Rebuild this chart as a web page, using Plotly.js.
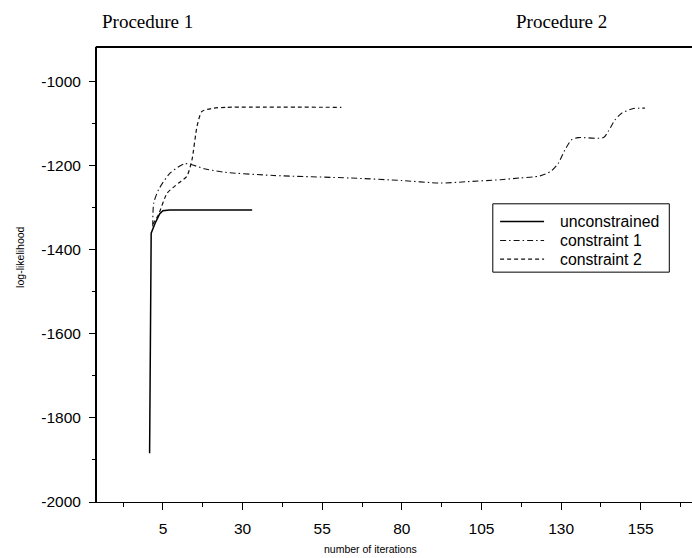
<!DOCTYPE html>
<html>
<head>
<meta charset="utf-8">
<script src="https://cdn.plot.ly/plotly-3.0.1.min.js"></script>
<style>html,body{margin:0;padding:0;background:#fff;}#chart{width:692px;height:558px;}</style>
</head>
<body>
<div id="chart"></div>
<script>
// ---- data ----
const seriesNames = ["unconstrained", "constraint 1", "constraint 2"];

const unconX = [0.8, 1.3, 2.5, 4, 5, 7, 15, 25, 33];
const unconY = [-1884, -1361, -1338, -1315, -1308, -1306, -1306, -1306, -1306];

const c1X = [1.8, 2.1, 3.6, 7.3, 12, 18, 24, 39.7, 63.8, 80, 92, 100, 111, 117, 123.4, 126.6, 129.1, 131.2, 133.3, 135.4, 143.3, 144.8, 146.9, 149, 152.7, 156.3];
const c1Y = [-1345, -1290, -1258, -1218, -1196, -1208, -1216, -1224, -1230, -1236, -1242, -1239, -1234, -1230, -1225, -1215, -1195, -1163, -1139, -1134, -1134, -1119, -1092, -1076, -1065, -1064];

const c2X = [1.8, 3.6, 6.3, 9.9, 12.5, 14.1, 15.7, 17.2, 20.9, 25, 61];
const c2Y = [-1340, -1317, -1266, -1242, -1226, -1187, -1107, -1072, -1064, -1062, -1062];

const xTickVals = [5, 30, 55, 80, 105, 130, 155];
const yTickVals = [-2000, -1800, -1600, -1400, -1200, -1000];
const topTitles = ["Procedure 1", "Procedure 2"];

// ---- layout geometry (pixels) ----
const W = 692, H = 558;
const L = 96.7, T = 47.3, B = 56, R = 0;
const pw = W - L - R, ph = H - T - B;
const px2x = p => (p - L) / pw;
const py2y = p => (H - B - p) / ph;

const sans = "Liberation Sans, Arial, Helvetica, sans-serif";
const serif = "Liberation Serif, Times New Roman, serif";

const lineStyles = [
  {color: "#000", width: 1.5},
  {color: "#111", width: 1.1, dash: "6px,3px,1.5px,3px"},
  {color: "#111", width: 1.2, dash: "4px,3px"}
];

const traces = [
  {x: unconX, y: unconY, name: seriesNames[0], mode: "lines",
   line: Object.assign({shape: "linear"}, lineStyles[0])},
  {x: c1X, y: c1Y, name: seriesNames[1], mode: "lines",
   line: Object.assign({shape: "spline", smoothing: 0.7}, lineStyles[1])},
  {x: c2X, y: c2Y, name: seriesNames[2], mode: "lines",
   line: Object.assign({shape: "spline", smoothing: 0.6}, lineStyles[2])}
];

// legend box (drawn as layout decoration)
const legBox = {x0: 492.7, x1: 669.3, y0: 204, y1: 272.3};
const legRowsY = [221.7, 240.7, 259.3];
const legSample = {x0: 500, x1: 544};
const legTextX = 559.3;

const shapes = [
  {type: "line", xref: "paper", yref: "paper", x0: -0.002, x1: 1, y0: 1, y1: 1,
   line: {color: "#000", width: 2}},
  {type: "rect", xref: "paper", yref: "paper",
   x0: px2x(legBox.x0), x1: px2x(legBox.x1), y0: py2y(legBox.y1), y1: py2y(legBox.y0),
   line: {color: "#000", width: 1}, fillcolor: "#fff", layer: "above"}
];
const annotations = [
  {text: topTitles[0], xref: "paper", yref: "paper", x: px2x(147), y: py2y(22),
   xanchor: "center", yanchor: "middle", showarrow: false,
   font: {family: serif, size: 19, color: "#000"}},
  {text: topTitles[1], xref: "paper", yref: "paper", x: px2x(561), y: py2y(22),
   xanchor: "center", yanchor: "middle", showarrow: false,
   font: {family: serif, size: 19, color: "#000"}},
  {text: "number of iterations", xref: "paper", yref: "paper", x: px2x(370), y: py2y(549),
   xanchor: "center", yanchor: "middle", showarrow: false,
   font: {family: sans, size: 10.5, color: "#000"}},
  {text: "log-likelihood", xref: "paper", yref: "paper", x: px2x(19), y: py2y(257.7),
   xanchor: "center", yanchor: "middle", showarrow: false, textangle: -90,
   font: {family: sans, size: 10.5, color: "#000"}}
];
seriesNames.forEach((nm, i) => {
  shapes.push({type: "line", xref: "paper", yref: "paper",
    x0: px2x(legSample.x0), x1: px2x(legSample.x1), y0: py2y(legRowsY[i]), y1: py2y(legRowsY[i]),
    line: lineStyles[i], layer: "above"});
  annotations.push({text: nm, xref: "paper", yref: "paper", x: px2x(legTextX), y: py2y(legRowsY[i]),
    xanchor: "left", yanchor: "middle", showarrow: false, xshift: -1,
    font: {family: sans, size: 15.8, color: "#000"}});
});

const layout = {
  width: W, height: H,
  margin: {l: L, r: R, t: T, b: B, pad: 0},
  paper_bgcolor: "#fff", plot_bgcolor: "#fff",
  font: {family: sans, color: "#000", size: 15.5},
  showlegend: false,
  xaxis: {
    range: [5 - (162.7 - L) / 3.187, 5 + (W - 162.7) / 3.187],
    tickvals: xTickVals, ticktext: xTickVals.map(String),
    ticks: "outside", ticklen: 7, tickwidth: 1, tickcolor: "#000",
    ticklabelstandoff: 5,
    minor: {dtick: 12.5, tick0: 5, ticks: "outside", ticklen: 4, tickwidth: 1, tickcolor: "#000", showgrid: false},
    showline: true, linecolor: "#000", linewidth: 1,
    showgrid: false, zeroline: false,
    tickfont: {family: sans, size: 15.5, color: "#000"}
  },
  yaxis: {
    range: [-2000, -1000 + (81.5 - T) / 0.4205],
    tickvals: yTickVals, ticktext: yTickVals.map(String),
    ticks: "outside", ticklen: 6, tickwidth: 1, tickcolor: "#000",
    ticklabelstandoff: 5,
    minor: {dtick: 100, tick0: -2000, ticks: "outside", ticklen: 3, tickwidth: 1, tickcolor: "#000", showgrid: false},
    showline: true, linecolor: "#000", linewidth: 2,
    showgrid: false, zeroline: false,
    tickfont: {family: sans, size: 15.5, color: "#000"}
  },
  shapes: shapes,
  annotations: annotations
};

Plotly.newPlot("chart", traces, layout, {displayModeBar: false, staticPlot: true});
</script>
</body>
</html>
